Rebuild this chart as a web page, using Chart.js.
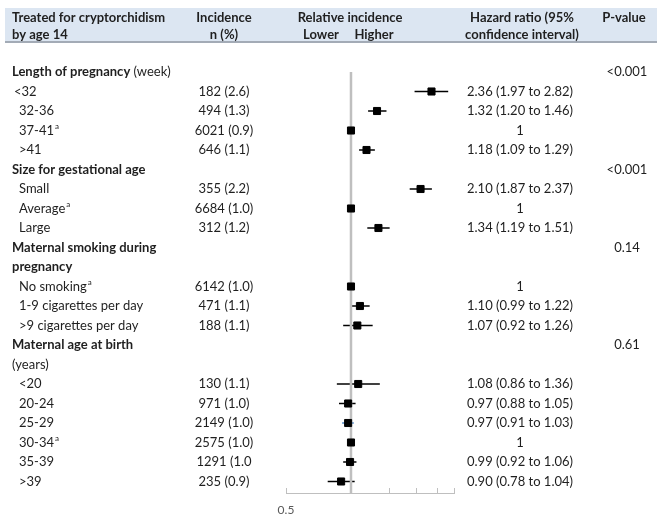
<!DOCTYPE html>
<html>
<head>
<meta charset="utf-8">
<script src="https://cdn.jsdelivr.net/npm/chart.js@4.4.0/dist/chart.umd.min.js"></script>
<style>
  html, body { margin: 0; padding: 0; background: #ffffff; }
  #wrap { width: 657px; height: 518px; position: relative; }
</style>
</head>
<body>
<div id="wrap"><canvas id="forest" width="657" height="518"></canvas></div>
<script>
// Row labels of the table, top to bottom
const rowLabels = ['Length of pregnancy', '<32', '32-36', '37-41', '>41',
  'Size for gestational age', 'Small', 'Average', 'Large',
  'Maternal smoking during', 'pregnancy', 'No smoking', '1-9 cigarettes per day', '>9 cigarettes per day',
  'Maternal age at birth', '(years)', '<20', '20-24', '25-29', '30-34', '35-39', '>39'];
// head = bold group title, note = plain continuation, item = category, itemShallow = category with less indent
const rowKinds = ['head', 'itemShallow', 'item', 'item', 'item',
  'head', 'item', 'item', 'item',
  'head', 'head', 'item', 'item', 'item',
  'head', 'note', 'item', 'item', 'item', 'item', 'item', 'item'];
const rowUnits = [' (week)', '', '', '', '', '', '', '', '', '', '', '', '', '', '', '', '', '', '', '', '', ''];
const incidence = ['', '182 (2.6)', '494 (1.3)', '6021 (0.9)', '646 (1.1)',
  '', '355 (2.2)', '6684 (1.0)', '312 (1.2)',
  '', '', '6142 (1.0)', '471 (1.1)', '188 (1.1)',
  '', '', '130 (1.1)', '971 (1.0)', '2149 (1.0)', '2575 (1.0)', '1291 (1.0', '235 (0.9)'];
const hazardRatio = [null, 2.36, 1.32, 1, 1.18, null, 2.10, 1, 1.34, null, null, 1, 1.10, 1.07, null, null, 1.08, 0.97, 0.97, 1, 0.99, 0.90];
const ciLower = [null, 1.97, 1.20, null, 1.09, null, 1.87, null, 1.19, null, null, null, 0.99, 0.92, null, null, 0.86, 0.88, 0.91, null, 0.92, 0.78];
const ciUpper = [null, 2.82, 1.46, null, 1.29, null, 2.37, null, 1.51, null, null, null, 1.22, 1.26, null, null, 1.36, 1.05, 1.03, null, 1.06, 1.04];
const pValues = ['<0.001', '', '', '', '', '<0.001', '', '', '', '0.14', '', '', '', '',
  '0.61', '', '', '', '', '', '', ''];
const xTickValues = [0.5, 1, 1.5, 2, 2.5, 3];
const xTickLabels = ['0.5', '', '', '', '', ''];
const headerLine1 = ['Treated for cryptorchidism', 'Incidence', 'Relative incidence', 'Hazard ratio (95%', 'P-value'];
const headerLine2 = ['by age 14', 'n (%)', 'Lower', 'Higher', 'confidence interval)'];

const TEXT = '#1f1f1f';
const FONT = 'Lato, "Open Sans", sans-serif';
const BODY_SIZE = 13;
const isReference = (i) => hazardRatio[i] === 1 && ciLower[i] === null;
const hrText = (i) => {
  if (hazardRatio[i] === null) return '';
  if (isReference(i)) return '1';
  return hazardRatio[i].toFixed(2) + ' (' + ciLower[i].toFixed(2) + ' to ' + ciUpper[i].toFixed(2) + ')';
};
const lastRow = rowLabels.length - 1;
const Y_MIN = -1, Y_MAX = lastRow + 0.59;

const markerPoints = [];
hazardRatio.forEach((v, i) => { if (v !== null) markerPoints.push({ x: v, y: i }); });

const forestTable = {
  id: 'forestTable',
  beforeDraw(chart) {
    const ctx = chart.ctx;
    ctx.save();
    // header band
    ctx.fillStyle = '#dce6f2';
    ctx.fillRect(5, 8, chart.width - 5, 34);
    ctx.fillStyle = '#a3abb6';
    ctx.fillRect(5, 41, chart.width - 5, 2);
    ctx.fillStyle = TEXT;
    ctx.textBaseline = 'middle';
    ctx.font = 'bold ' + BODY_SIZE + 'px ' + FONT;
    ctx.textAlign = 'left';
    ctx.fillText(headerLine1[0], 12, 18);
    ctx.fillText(headerLine2[0], 12, 35);
    ctx.textAlign = 'center';
    ctx.fillText(headerLine1[1], 224, 18);
    ctx.fillText(headerLine2[1], 224, 35);
    ctx.fillText(headerLine1[2], 350, 18);
    ctx.fillText(headerLine2[2], 321, 35);
    ctx.fillText(headerLine2[3], 374, 35);
    ctx.fillText(headerLine1[3], 522, 18);
    ctx.fillText(headerLine2[4], 522, 35);
    ctx.fillText(headerLine1[4], 624, 18);
    ctx.restore();
  },
  beforeDatasetsDraw(chart) {
    // confidence interval whiskers
    const ctx = chart.ctx;
    const xs = chart.scales.x, ys = chart.scales.y;
    ctx.save();
    ctx.lineWidth = 1.5;
    hazardRatio.forEach((v, i) => {
      if (ciLower[i] === null) return;
      const y = ys.getPixelForValue(i);
      ctx.strokeStyle = rowLabels[i] === '25-29' ? '#4a86c5' : '#000000';
      ctx.beginPath();
      ctx.moveTo(xs.getPixelForValue(ciLower[i]), y);
      ctx.lineTo(xs.getPixelForValue(ciUpper[i]), y);
      ctx.stroke();
    });
    ctx.restore();
  },
  afterDraw(chart) {
    const ctx = chart.ctx;
    const xs = chart.scales.x, ys = chart.scales.y;
    ctx.save();
    // inward tick marks on the x axis
    ctx.strokeStyle = '#bfbfbf';
    ctx.lineWidth = 1;
    xTickValues.forEach((v) => {
      const x = Math.round(xs.getPixelForValue(v)) + 0.5;
      ctx.beginPath();
      ctx.moveTo(x, ys.bottom);
      ctx.lineTo(x, ys.bottom - 5);
      ctx.stroke();
    });
    ctx.textBaseline = 'middle';
    ctx.fillStyle = TEXT;
    rowLabels.forEach((label, i) => {
      const y = ys.getPixelForValue(i);
      const kind = rowKinds[i];
      let x = 19;
      if (kind === 'head' || kind === 'note') x = 12;
      if (kind === 'itemShallow') x = 14;
      ctx.textAlign = 'left';
      ctx.font = (kind === 'head' ? 'bold ' : '') + BODY_SIZE + 'px ' + FONT;
      ctx.fillText(label, x, y);
      let w = ctx.measureText(label).width;
      if (rowUnits[i]) {
        ctx.font = BODY_SIZE + 'px ' + FONT;
        ctx.fillText(rowUnits[i], x + w, y);
      }
      if (isReference(i)) {
        ctx.font = '8px ' + FONT;
        ctx.fillText('a', x + w + 1, y - 4);
      }
      ctx.font = BODY_SIZE + 'px ' + FONT;
      ctx.textAlign = 'center';
      if (incidence[i]) ctx.fillText(incidence[i], 224, y);
      const hr = hrText(i);
      if (hr) ctx.fillText(hr, 520, y);
      if (pValues[i]) ctx.fillText(pValues[i], 627, y);
    });
    ctx.restore();
  }
};

new Chart(document.getElementById('forest'), {
  type: 'scatter',
  data: {
    datasets: [
      {
        type: 'line',
        data: [{ x: 1, y: 0 }, { x: 1, y: Y_MAX }],
        borderColor: '#bfbfbf',
        borderWidth: 2.5,
        pointRadius: 0,
        order: 2
      },
      {
        data: markerPoints,
        pointStyle: 'rect',
        pointRadius: 5,
        pointBackgroundColor: '#000000',
        pointBorderColor: '#000000',
        pointBorderWidth: 1,
        order: 1
      }
    ]
  },
  options: {
    responsive: false,
    animation: false,
    layout: { autoPadding: false, padding: { left: 286, right: 203, top: 52.5, bottom: 0 } },
    plugins: { legend: { display: false }, tooltip: { enabled: false } },
    scales: {
      x: {
        type: 'logarithmic',
        min: 0.5,
        max: 3,
        afterBuildTicks(scale) { scale.ticks = xTickValues.map((v) => ({ value: v })); },
        afterFit(scale) { scale.height = 25; },
        ticks: {
          autoSkip: false,
          maxRotation: 0,
          padding: 10,
          color: '#595959',
          font: { family: FONT, size: 12 },
          callback(value) {
            const k = xTickValues.indexOf(value);
            return k >= 0 ? xTickLabels[k] : '';
          }
        },
        grid: { display: false, drawTicks: false },
        border: { display: true, color: '#bfbfbf', width: 1 }
      },
      y: {
        type: 'linear',
        reverse: true,
        min: Y_MIN,
        max: Y_MAX,
        display: false
      }
    }
  },
  plugins: [forestTable]
});
</script>
</body>
</html>
